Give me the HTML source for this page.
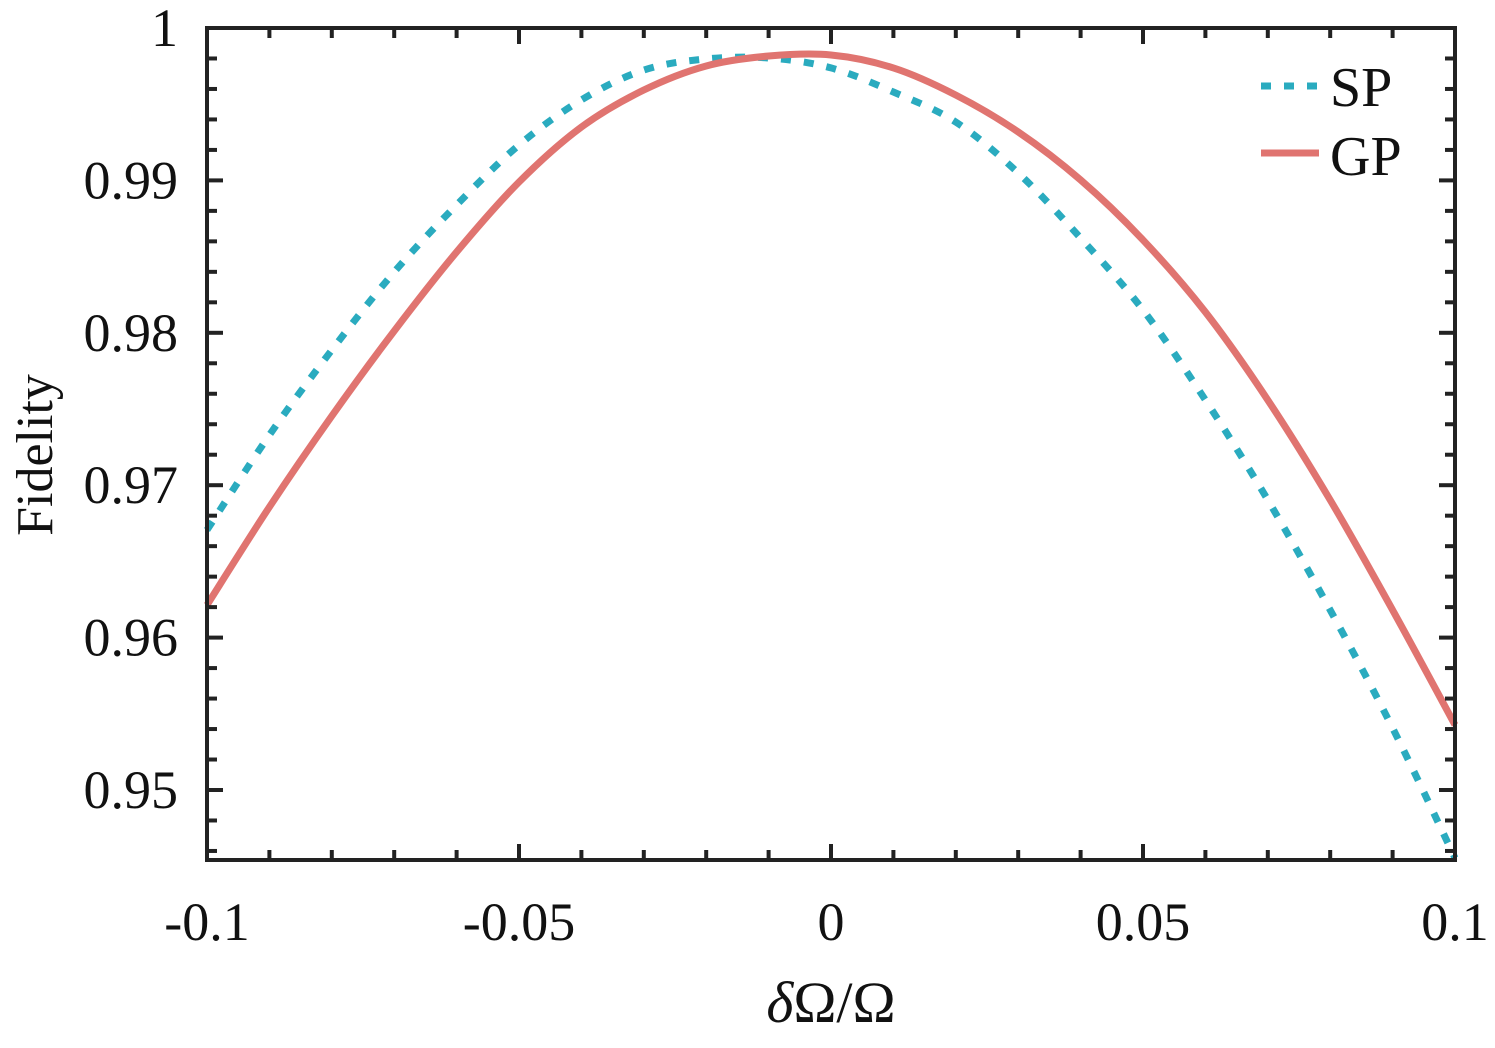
<!DOCTYPE html>
<html><head><meta charset="utf-8"><style>
body{margin:0;background:#fff}
svg text{font-family:"Liberation Serif","Times New Roman",serif;fill:#111}
</style></head><body>
<svg id="chart" width="1495" height="1043" xmlns="http://www.w3.org/2000/svg" font-family="Liberation Serif, Times New Roman, serif">
<g id="series"></g>
<rect x="207" y="28" width="1248" height="832" fill="none" stroke="#222" stroke-width="4"/>
<g id="ticks"></g>
<text x="831" y="1022" font-size="58" text-anchor="middle" font-family="Liberation Serif, serif"><tspan font-style="italic">δ</tspan>Ω/Ω</text>
<text transform="translate(52,455) rotate(-90)" font-size="52" text-anchor="middle" font-family="Liberation Serif, serif">Fidelity</text>
<g>
<line x1="1261" y1="86" x2="1319" y2="86" stroke="#2aabbf" stroke-width="7" stroke-dasharray="10,13"/>
<text x="1330" y="106" font-size="56" font-family="Liberation Serif, serif">SP</text>
<line x1="1261" y1="153" x2="1319" y2="153" stroke="#e07470" stroke-width="7"/>
<text x="1330" y="175" font-size="56" font-family="Liberation Serif, serif">GP</text>
</g>
</svg>
<script>
const xs=[-0.1,-0.09,-0.08,-0.07,-0.06,-0.05,-0.04,-0.03,-0.02,-0.01,0,0.01,0.02,0.03,0.04,0.05,0.06,0.07,0.08,0.09,0.1];
const spValues=[0.96706,0.97329,0.97887,0.98399,0.98839,0.99232,0.99528,0.99724,0.99797,0.99803,0.99738,0.99580,0.99383,0.99049,0.98622,0.98150,0.97559,0.96903,0.96181,0.95407,0.94554];
const gpValues=[0.96214,0.96857,0.97454,0.98012,0.98530,0.98989,0.99350,0.99593,0.99751,0.99816,0.99823,0.99738,0.99560,0.99318,0.99003,0.98609,0.98136,0.97559,0.96903,0.96181,0.95427];
const xTickLabels=["-0.1","-0.05","0","0.05","0.1"];
const xTickVals=[-0.1,-0.05,0,0.05,0.1];
const yTickLabels=["0.95","0.96","0.97","0.98","0.99","1"];
const yTickVals=[0.95,0.96,0.97,0.98,0.99,1];
const X0=207,X1=1455,Y0=28,Y1=860;
const xScale=v=>X0+(v+0.1)/0.2*(X1-X0);
const yScale=v=>Y0+(1-v)*15240;
const NS="http://www.w3.org/2000/svg";
function mk(t,a){const e=document.createElementNS(NS,t);for(const k in a)e.setAttribute(k,a[k]);return e;}
function path(vals){
 const p=xs.map((x,i)=>[xScale(x),yScale(vals[i])]);
 let d="M"+p[0][0]+","+p[0][1];
 for(let i=0;i<p.length-1;i++){
  const a=p[Math.max(0,i-1)],b=p[i],c=p[i+1],e=p[Math.min(p.length-1,i+2)];
  d+=" C"+(b[0]+(c[0]-a[0])/6)+","+(b[1]+(c[1]-a[1])/6)+" "+(c[0]-(e[0]-b[0])/6)+","+(c[1]-(e[1]-b[1])/6)+" "+c[0]+","+c[1];
 }
 return d;
}
const ser=document.getElementById('series');
const sp=mk('path',{d:path(spValues),fill:'none',stroke:'#2aabbf','stroke-width':7,'stroke-dasharray':'10,13'});


ser.appendChild(sp);
const gp=mk('path',{d:path(gpValues),fill:'none',stroke:'#e07470','stroke-width':7});


ser.appendChild(gp);
const tk=document.getElementById('ticks');
for(let i=0;i<=20;i++){
 const v=-0.1+i*0.01,x=xScale(v),L=(i%5==0)?16:10;
 const t1=mk('line',{x1:x,y1:Y1,x2:x,y2:Y1-L,stroke:'#222','stroke-width':4});
 
 
 tk.appendChild(t1);
 const t2=mk('line',{x1:x,y1:Y0,x2:x,y2:Y0+L,stroke:'#222','stroke-width':4});
 
 
 tk.appendChild(t2);
}
for(let v=0.946;v<=1.0001;v+=0.002){
 const y=yScale(v),maj=Math.abs(v*100-Math.round(v*100))<1e-6,L=maj?16:10;
 const t1=mk('line',{x1:X0,y1:y,x2:X0+L,y2:y,stroke:'#222','stroke-width':4});
 
 
 tk.appendChild(t1);
 const t2=mk('line',{x1:X1,y1:y,x2:X1-L,y2:y,stroke:'#222','stroke-width':4});
 
 
 tk.appendChild(t2);
}
xTickVals.forEach((v,i)=>{
 const t=mk('text',{x:xScale(v),y:940,'font-size':54,'text-anchor':'middle','font-family':'Liberation Serif, serif'});
 t.textContent=xTickLabels[i];
 
 
 tk.appendChild(t);
});
yTickVals.forEach((v,i)=>{
 const t=mk('text',{x:178,y:yScale(v)+18,'font-size':54,'text-anchor':'end','font-family':'Liberation Serif, serif'});
 t.textContent=yTickLabels[i];
 
 
 tk.appendChild(t);
});
</script>
</body></html>
